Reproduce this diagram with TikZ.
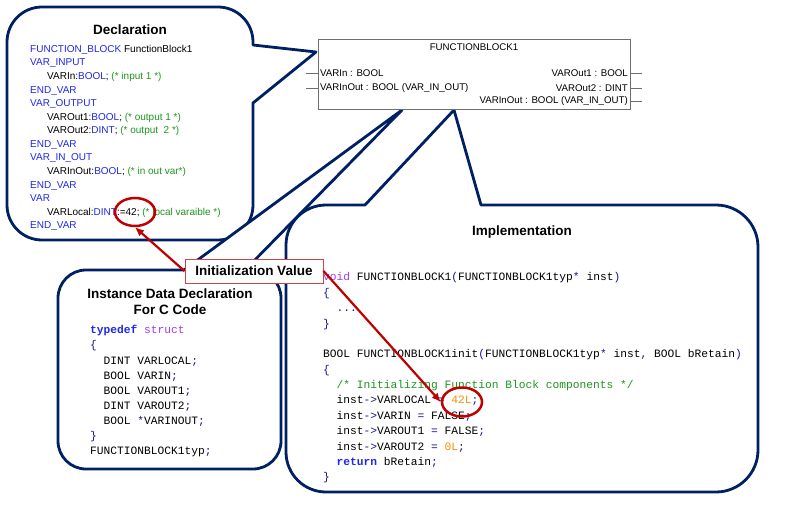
\documentclass[tikz,border=0pt]{standalone}
\usepackage{fontspec}
\setmainfont{Liberation Sans}
\newfontfamily\codefont{Liberation Mono}
\usetikzlibrary{arrows.meta,shapes.geometric}
\definecolor{navy}{RGB}{0,32,100}
\definecolor{kwblue}{RGB}{30,40,235}
\definecolor{cmgreen}{RGB}{30,150,30}
\definecolor{pblue}{RGB}{20,20,150}
\definecolor{cpurple}{RGB}{160,60,240}
\definecolor{corange}{RGB}{255,140,0}
\definecolor{darkred}{RGB}{192,0,0}
\definecolor{labelred}{RGB}{200,70,70}
\definecolor{fbgray}{RGB}{110,110,110}
\newcommand{\kw}[1]{\textcolor{kwblue}{#1}}
\newcommand{\cm}[1]{\textcolor{cmgreen}{#1}}
\newcommand{\pb}[1]{\textcolor{pblue}{#1}}
\newcommand{\pu}[1]{\textcolor{cpurple}{#1}}
\newcommand{\og}[1]{\textcolor{corange}{#1}}
\newcommand{\ind}{\hspace*{17pt}}
\newcommand{\cind}{\phantom{xx}}
\tikzset{
  bubble/.style={draw=navy, line width=2.8pt, fill=white, line join=round},
  titletext/.style={inner sep=0pt, font=\fontsize{13.5}{16}\selectfont\bfseries, align=center},
  decltext/.style={inner sep=0pt, align=left, anchor=north west, font=\fontsize{10}{13.57}\selectfont},
  insttext/.style={inner sep=0pt, align=left, anchor=north west, font=\codefont\fontsize{11.25}{15.15}\selectfont},
  impltext/.style={inner sep=0pt, align=left, anchor=north west, font=\codefont\fontsize{11.25}{15.38}\selectfont},
  fbbox/.style={draw=fbgray, line width=0.8pt, fill=white, minimum width=312pt, minimum height=70pt, inner sep=0pt},
  fbtext/.style={inner sep=0pt, font=\fontsize{9.7}{11}\selectfont},
  pinline/.style={draw=fbgray, line width=0.8pt},
  initbox/.style={draw=labelred, line width=1pt, fill=white, minimum width=138pt, minimum height=24pt, inner sep=0pt, font=\fontsize{13.5}{16}\selectfont\bfseries},
  redring/.style={ellipse, draw=darkred, line width=2.5pt, inner sep=0pt},
  redarrow/.style={draw=darkred, line width=2.2pt, -{Latex[length=9pt,width=8pt]}}
}
\begin{document}
\begin{tikzpicture}[x=1pt,y=1pt]
\fill[white] (0,0) rectangle (799,-505);
\useasboundingbox (0,0) rectangle (799,-505);

% Declaration callout
\path[bubble] (42,-7) -- (218,-7) arc[start angle=90,end angle=0,radius=35]
  -- (253,-45) -- (316,-52) -- (253,-103) -- (253,-205)
  arc[start angle=0,end angle=-90,radius=35] -- (42,-240)
  arc[start angle=270,end angle=180,radius=35] -- (7,-42)
  arc[start angle=180,end angle=90,radius=35] -- cycle;

% Instance callout
\path[bubble] (86,-270) -- (184,-270) -- (402,-110) -- (245,-270) -- (253,-270)
  arc[start angle=90,end angle=0,radius=28] -- (281,-441)
  arc[start angle=0,end angle=-90,radius=28] -- (86,-469)
  arc[start angle=270,end angle=180,radius=28] -- (58,-298)
  arc[start angle=180,end angle=90,radius=28] -- cycle;

% Implementation callout
\path[bubble] (326,-205) -- (365,-205) -- (454,-110) -- (481,-205) -- (716,-205)
  arc[start angle=90,end angle=0,radius=42] -- (758,-450)
  arc[start angle=0,end angle=-90,radius=42] -- (326,-492)
  arc[start angle=270,end angle=180,radius=40] -- (286,-245)
  arc[start angle=180,end angle=90,radius=40] -- cycle;

% Function block
\node[fbbox] (fb) at (474,-74) {};
\node[fbtext] (fbtitle) at (474,-47) {FUNCTIONBLOCK1};
\node[fbtext, anchor=west] (inA) at (320,-73) {VARIn : BOOL};
\node[fbtext, anchor=west] (inB) at (320,-88) {VARInOut : BOOL (VAR\_IN\_OUT)};
\node[fbtext, anchor=east] (outA) at (628,-73) {VAROut1 : BOOL};
\node[fbtext, anchor=east] (outB) at (628,-88) {VAROut2 : DINT};
\node[fbtext, anchor=east] (outC) at (628,-101) {VARInOut : BOOL (VAR\_IN\_OUT)};
\draw[pinline] (fb.west |- inA) -- ++(-12,0);
\draw[pinline] (fb.west |- inB) -- ++(-12,0);
\draw[pinline] (fb.east |- outA) -- ++(12,0);
\draw[pinline] (fb.east |- outB) -- ++(12,0);
\draw[pinline] (fb.east |- outC) -- ++(12,0);

% Declaration content
\node[titletext] (decltitle) at (130,-30) {Declaration};
\node[decltext] (declcode) at (30,-42.7) {\strut\kw{FUNCTION\_BLOCK} FunctionBlock1\\
\kw{VAR\_INPUT}\\
\ind VARIn:\kw{BOOL}; \cm{(* input 1 *)}\\
\kw{END\_VAR}\\
\kw{VAR\_OUTPUT}\\
\ind VAROut1:\kw{BOOL}; \cm{(* output 1 *)}\\
\ind VAROut2:\kw{DINT}; \cm{(* output~ 2 *)}\\
\kw{END\_VAR}\\
\kw{VAR\_IN\_OUT}\\
\ind VARInOut:\kw{BOOL}; \cm{(* in out var*)}\\
\kw{END\_VAR}\\
\kw{VAR}\\
\ind VARLocal:\kw{DINT}:=42; \cm{(* local varaible *)}\\
\kw{END\_VAR}};

% Instance content
\node[titletext] (insttitle) at (170,-302) {Instance Data Declaration\\For C Code};
\node[insttext] (instcode) at (90,-322.9) {\strut\textcolor{kwblue}{\bfseries typedef} \pu{struct}\\
\pb{\{}\\
\cind DINT VARLOCAL\pb{;}\\
\cind BOOL VARIN\pb{;}\\
\cind BOOL VAROUT1\pb{;}\\
\cind DINT VAROUT2\pb{;}\\
\cind BOOL \pb{*}VARINOUT\pb{;}\\
\pb{\}}\\
FUNCTIONBLOCK1typ\pb{;}};

% Implementation content
\node[titletext] (impltitle) at (522,-232) {Implementation};
\node[impltext] (implcode) at (323,-269.9) {\strut\pu{void} FUNCTIONBLOCK1\pb{(}FUNCTIONBLOCK1typ\pb{*} inst\pb{)}\\
\pb{\{}\\
\cind\pb{...}\\
\pb{\}}\\
\strut\\
BOOL FUNCTIONBLOCK1init\pb{(}FUNCTIONBLOCK1typ\pb{*} inst\pb{,} BOOL bRetain\pb{)}\\
\pb{\{}\\
\cind\cm{/* Initializing Function Block components */}\\
\cind inst\pb{->}VARLOCAL \pb{=} \og{42L}\pb{;}\\
\cind inst\pb{->}VARIN \pb{=} FALSE\pb{;}\\
\cind inst\pb{->}VAROUT1 \pb{=} FALSE\pb{;}\\
\cind inst\pb{->}VAROUT2 \pb{=} \og{0L}\pb{;}\\
\cind\textcolor{kwblue}{\bfseries return} bRetain\pb{;}\\
\pb{\}}};

% Highlight rings
\node[redring, minimum width=40pt, minimum height=28pt] (circA) at (135,-212) {};
\node[redring, minimum width=40pt, minimum height=29pt] (circB) at (462,-402) {};

% Label and arrows
\node[initbox] (init) at (254,-271) {Initialization Value};
\draw[redarrow] (init.west) -- (circA.south);
\draw[redarrow] (init.east) -- (circB.west);
\end{tikzpicture}
\end{document}
